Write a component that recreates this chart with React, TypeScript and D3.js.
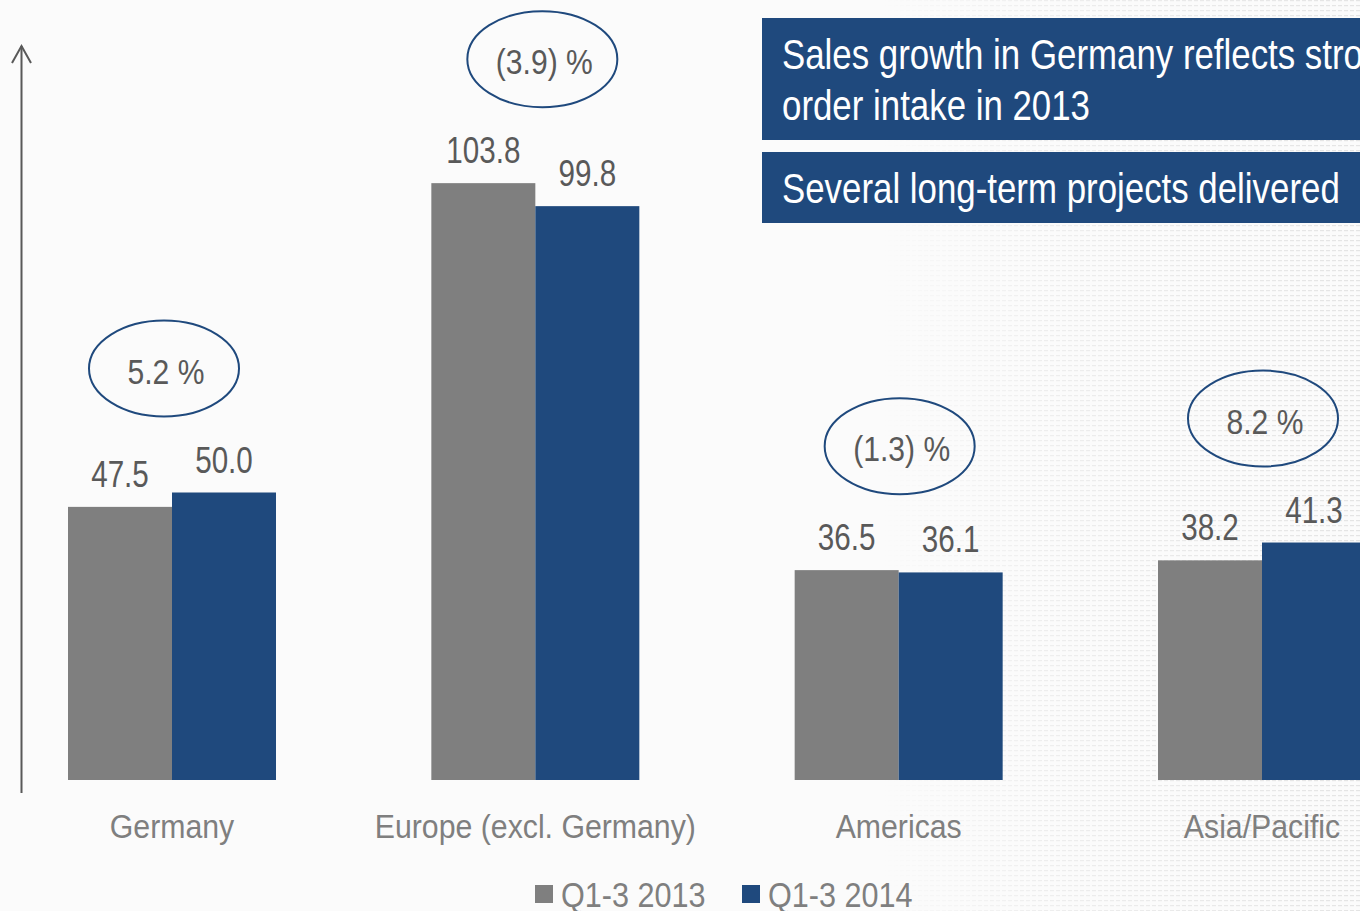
import React from "react";
import * as d3 from "d3";

const categories = ["Germany", "Europe (excl. Germany)", "Americas", "Asia/Pacific"];
const seriesNames = ["Q1-3 2013", "Q1-3 2014"];
const values2013 = [47.5, 103.8, 36.5, 38.2];
const values2014 = [50.0, 99.8, 36.1, 41.3];
const growthLabels = ["5.2 %", "(3.9) %", "(1.3) %", "8.2 %"];
const valueLabels2013 = ["47.5", "103.8", "36.5", "38.2"];
const valueLabels2014 = ["50.0", "99.8", "36.1", "41.3"];
const notes = [["Sales growth in Germany reflects strong", "order intake in 2013"], ["Several long-term projects delivered"]];

const W = 1360;
const H = 911;
const GRAY = "#7f7f7f";
const BLUE = "#1f497d";
const TEXT = "#595959";
const FONT = "'Liberation Sans', Arial, sans-serif";

function T(props: { x: number; y: number; fs: number; sx: number; fill: string; anchor?: string; children: React.ReactNode }) {
  const { x, y, fs, sx, fill, anchor, children } = props;
  return (
    <text transform={`translate(${x},${y}) scale(${sx},1)`} fontSize={fs} fill={fill} textAnchor={anchor || "start"}>
      {children}
    </text>
  );
}

export default function App() {
  const x = d3.scalePoint<string>().domain(categories).range([172, 1262]);
  const xs = d3.scaleBand<string>().domain(seriesNames).range([-104, 104]).padding(0);
  const y = d3.scaleLinear().domain([0, 100]).range([780, 205]);
  const colors = [GRAY, BLUE];
  const seriesVals = [values2013, values2014];
  const seriesLabels = [valueLabels2013, valueLabels2014];

  return (
    <svg width={W} height={H} style={{ position: "absolute", left: 0, top: 0 }} fontFamily={FONT}>
      <defs>
        <pattern id="dots" width="6" height="5" patternUnits="userSpaceOnUse">
          <rect x="0" y="0" width="4" height="1.2" fill="#e4e4e4" />
        </pattern>
        <linearGradient id="fade" x1="0" x2="1" y1="0" y2="0">
          <stop offset="0" stopColor="white" stopOpacity="0" />
          <stop offset="0.35" stopColor="white" stopOpacity="0.6" />
          <stop offset="1" stopColor="white" stopOpacity="1" />
        </linearGradient>
        <mask id="fadeMask">
          <rect x="880" y="0" width={W - 880} height={H} fill="url(#fade)" />
        </mask>
      </defs>
      <rect width={W} height={H} fill="#fbfbfb" />
      <rect x="880" y="0" width={W - 880} height={H} fill="url(#dots)" mask="url(#fadeMask)" />

      {/* axis arrow */}
      <line x1={21.5} x2={21.5} y1={793} y2={46} stroke={TEXT} strokeWidth={2} />
      <polyline points="12,63 21.5,46 31,63" fill="none" stroke={TEXT} strokeWidth={2} />

      {/* bars */}
      {categories.map((c, i) => (
        <g key={c}>
          {seriesNames.map((s, k) => {
            const v = seriesVals[k][i];
            const bx = (x(c) as number) + (xs(s) as number);
            return (
              <g key={s}>
                <rect x={bx} y={y(v)} width={xs.bandwidth()} height={y(0) - y(v)} fill={colors[k]} />
                <T x={bx + xs.bandwidth() / 2} y={y(v) - 20} fs={37} sx={0.8} fill={TEXT} anchor="middle">
                  {seriesLabels[k][i]}
                </T>
              </g>
            );
          })}
          {(() => {
            const top = y(Math.max(values2013[i], values2014[i]));
            const cx = (x(c) as number) + (i === 0 ? -8 : i === 1 ? 7 : 1);
            const cy = top - 124;
            return (
              <g>
                <ellipse cx={cx} cy={cy} rx={75} ry={48} fill="none" stroke={BLUE} strokeWidth={2} />
                <T x={cx + 2} y={cy + 15} fs={35} sx={0.86} fill={TEXT} anchor="middle">
                  {growthLabels[i]}
                </T>
              </g>
            );
          })()}
          <T x={x(c) as number} y={838} fs={34} sx={0.89} fill={GRAY} anchor="middle">
            {c}
          </T>
        </g>
      ))}

      {/* note boxes */}
      <rect x={762} y={18} width={W - 762} height={122} fill={BLUE} />
      <T x={782} y={69} fs={42} sx={0.83} fill="white">{notes[0][0]}</T>
      <T x={782} y={120} fs={42} sx={0.83} fill="white">{notes[0][1]}</T>
      <rect x={762} y={152} width={W - 762} height={71} fill={BLUE} />
      <T x={782} y={203} fs={42} sx={0.83} fill="white">{notes[1][0]}</T>

      {/* legend */}
      <rect x={535} y={885} width={18} height={18} fill={GRAY} />
      <T x={561} y={907} fs={36} sx={0.85} fill={GRAY}>{seriesNames[0]}</T>
      <rect x={742} y={885} width={18} height={18} fill={BLUE} />
      <T x={768} y={907} fs={36} sx={0.85} fill={GRAY}>{seriesNames[1]}</T>
    </svg>
  );
}
